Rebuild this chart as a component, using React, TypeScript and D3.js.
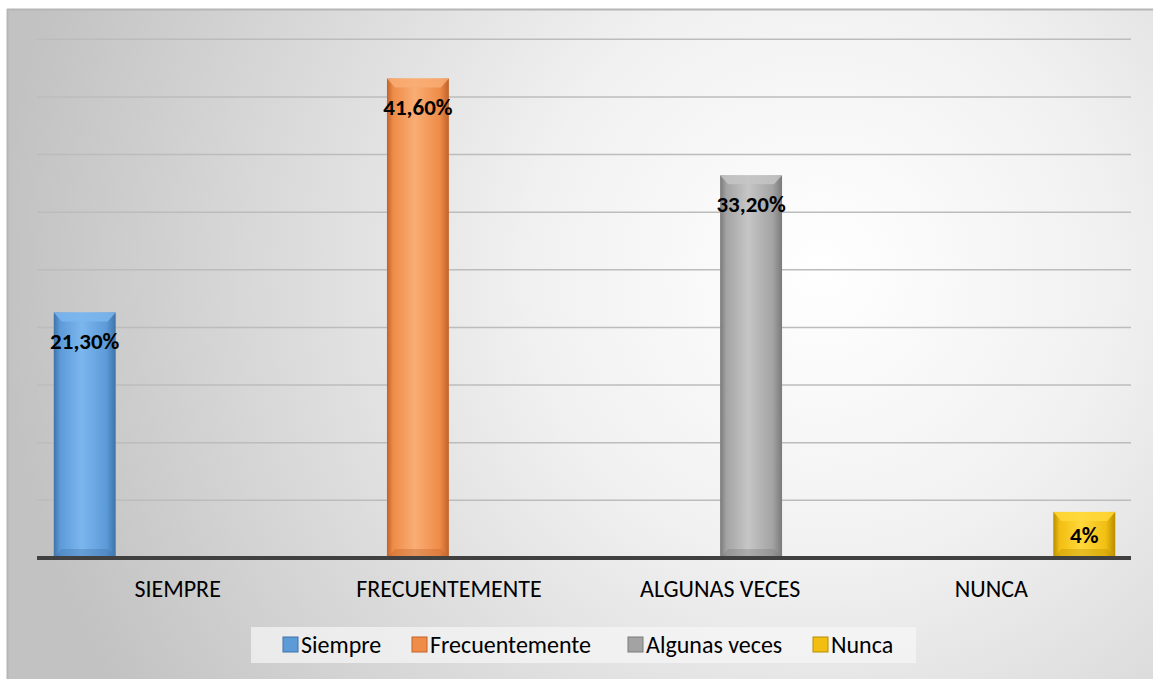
import React from 'react';
import * as d3 from 'd3';

// categories on the x axis and the legend series
const categories = ['SIEMPRE', 'FRECUENTEMENTE', 'ALGUNAS VECES', 'NUNCA'];
const seriesNames = ['Siempre', 'Frecuentemente', 'Algunas veces', 'Nunca'];

// one value per category for every series (only one category is filled per series)
const siempreValues = [21.3, null, null, null];
const frecuentementeValues = [null, 41.6, null, null];
const algunasVecesValues = [null, null, 33.2, null];
const nuncaValues = [null, null, null, 4];

const dataLabels = ['21,30%', '41,60%', '33,20%', '4%'];
const gridTicks = [5, 10, 15, 20, 25, 30, 35, 40, 45];

const seriesColors = [
  {dark: '#3f73a8', base: '#5c9ad8', light: '#7cb6ee'},
  {dark: '#c0622a', base: '#ef8c48', light: '#f9ad74'},
  {dark: '#7a7a7a', base: '#a3a3a3', light: '#c6c6c6'},
  {dark: '#b88e00', base: '#f2be12', light: '#ffd83a'},
];

const W = 1153, H = 679;
const font = 'Carlito, Lato, "Open Sans", sans-serif';

export default function App() {
  const allSeries = [siempreValues, frecuentementeValues, algunasVecesValues, nuncaValues];

  const x = d3.scaleBand().domain(categories).range([42, 1127]).paddingInner(0).paddingOuter(0);
  const xs = d3.scaleBand().domain(seriesNames).range([0, x.bandwidth()]).paddingInner(0).paddingOuter(0.19);
  const y = d3.scaleLinear().domain([0, 45]).range([558, 39.3]);

  const bars = [];
  allSeries.forEach((vals, si) => {
    vals.forEach((v, ci) => {
      if (v == null) return;
      bars.push({si, ci, v, label: dataLabels[ci]});
    });
  });

  return (
    <svg width={W} height={H} style={{position: 'absolute', left: 0, top: 0}}>
      <defs>
        <radialGradient id="bg" gradientUnits="userSpaceOnUse" cx={820} cy={270} r={820}>
          <stop offset="0" stopColor="#ffffff" />
          <stop offset="0.35" stopColor="#f1f1f1" />
          <stop offset="1" stopColor="#c2c2c2" />
        </radialGradient>
        {seriesColors.map((c, i) => (
          <linearGradient key={i} id={'bar' + i} x1="0" x2="1" y1="0" y2="0">
            <stop offset="0" stopColor={c.dark} />
            <stop offset="0.1" stopColor={c.base} />
            <stop offset="0.45" stopColor={c.light} />
            <stop offset="0.85" stopColor={c.base} />
            <stop offset="1" stopColor={c.dark} />
          </linearGradient>
        ))}
      </defs>

      <rect x={7} y={9} width={W - 7} height={H - 9} fill="url(#bg)" />
      <line x1={7} x2={W} y1={9.5} y2={9.5} stroke="#b6b6b6" strokeWidth={2} />
      <line x1={7.5} x2={7.5} y1={9} y2={H} stroke="#b6b6b6" strokeWidth={2} />

      {gridTicks.map(t => (
        <line key={t} x1={37} x2={1131} y1={y(t)} y2={y(t)} stroke="#bcbcbc" strokeWidth={1.5} />
      ))}

      {bars.map(b => {
        const bx = x(categories[b.ci]) + xs(seriesNames[b.si]);
        const bw = xs.bandwidth();
        const top = y(b.v);
        const bottom = y(0);
        const h = bottom - top;
        const c = seriesColors[b.si];
        const bev = Math.min(9, h / 4);
        const ly = Math.min(top + 37, (top + bottom) / 2 + 8);
        return (
          <g key={b.si}>
            <rect x={bx} y={top} width={bw} height={h} fill={'url(#bar' + b.si + ')'} />
            <polygon
              points={`${bx},${top} ${bx + bw},${top} ${bx + bw - 8},${top + bev} ${bx + 8},${top + bev}`}
              fill={c.light} opacity={0.85} />
            <polygon
              points={`${bx},${bottom} ${bx + bw},${bottom} ${bx + bw - 8},${bottom - bev} ${bx + 8},${bottom - bev}`}
              fill={c.dark} opacity={0.35} />
            <text x={bx + bw / 2} y={ly} textAnchor="middle" fontFamily={font} fontWeight="bold"
              fontSize={23} fill="#000">{b.label}</text>
          </g>
        );
      })}

      <line x1={37} x2={1131} y1={y(0)} y2={y(0)} stroke="#404040" strokeWidth={4} />

      {categories.map(c => (
        <text key={c} x={x(c) + x.bandwidth() / 2} y={597} textAnchor="middle" fontFamily={font}
          fontSize={24} fill="#000">{c}</text>
      ))}

      <rect x={251} y={627} width={665} height={36} fill="#f6f6f6" opacity={0.7} />
      {seriesNames.map((s, i) => {
        const lx = [283, 412, 628, 813][i];
        const c = seriesColors[i];
        return (
          <g key={s}>
            <rect x={lx} y={637} width={15} height={15} fill={c.base} stroke={c.dark} strokeWidth={1} />
            <text x={lx + 18} y={653} fontFamily={font} fontSize={24} fill="#000">{s}</text>
          </g>
        );
      })}
    </svg>
  );
}
